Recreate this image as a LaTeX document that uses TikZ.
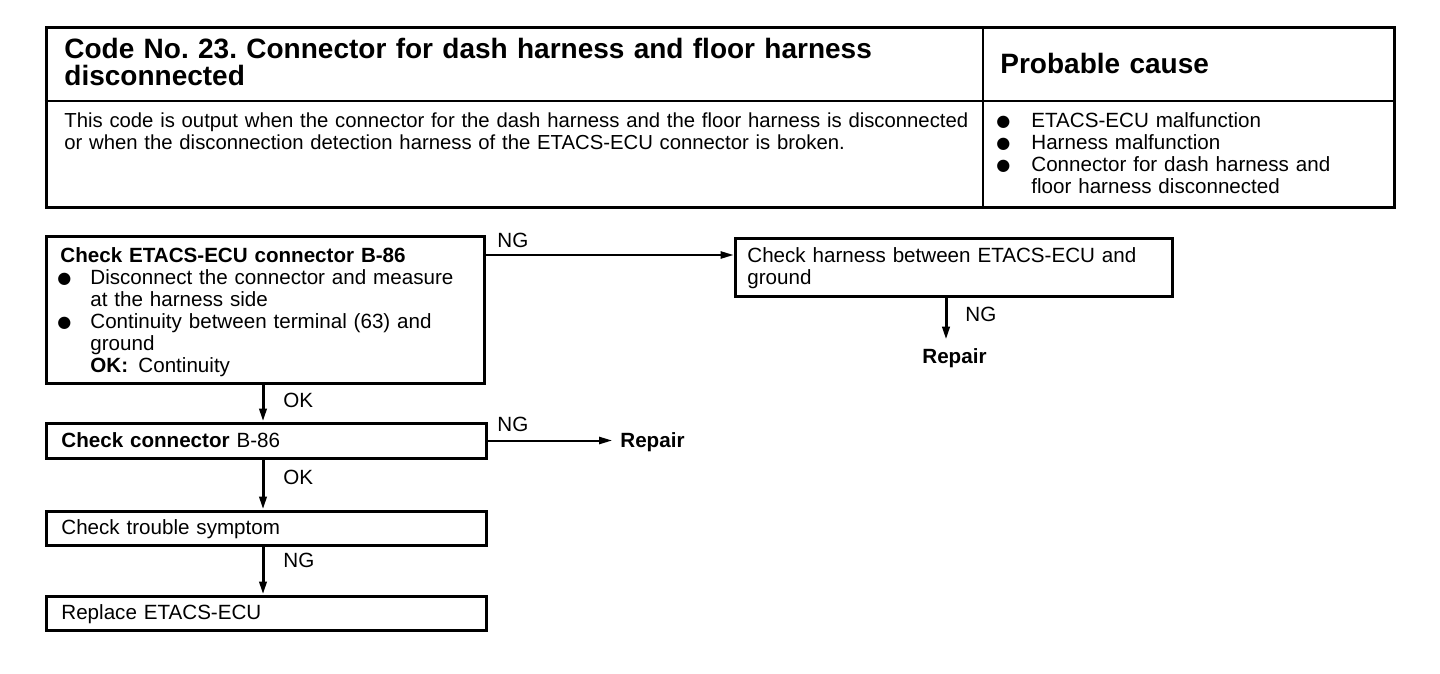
\documentclass[tikz,border=0pt]{standalone}
\usepackage{fontspec}
\setmainfont{Liberation Sans}
\newfontfamily\dejavu{DejaVu Sans}
\usetikzlibrary{arrows.meta,fit}
\frenchspacing
\newcommand{\bigdot}{\raisebox{0.2pt}{\dejavu\scalebox{0.78}{●}}}
\newcommand{\bulA}{\makebox[15pt][l]{\hspace{-1.5pt}\bigdot}}
\newcommand{\bulB}{\makebox[17.5pt][l]{\bigdot}}
\newcommand{\indA}{\hspace*{15pt}}
\newcommand{\indB}{\hspace*{17.5pt}}
\begin{document}
\begin{tikzpicture}[x=0.5pt,y=-0.5pt,
  box/.style={draw, line width=1.5pt, inner sep=0pt, rectangle},
  txt/.style={inner sep=0pt, anchor=base west, align=left, text width=#1,
    font=\fontsize{10.3}{11}\selectfont},
  txt/.default=210pt,
  ttl/.style={inner sep=0pt, anchor=base west, align=left, text width=470pt,
    font=\fontsize{14}{13.5}\selectfont\bfseries},
  lbl/.style={inner sep=0pt, anchor=base west, font=\fontsize{10.3}{11}\selectfont},
  rep/.style={inner sep=0pt, anchor=base west, font=\fontsize{10.3}{11}\selectfont\bfseries},
  vflow/.style={line width=1.5pt, -{Triangle[length=6.5pt,width=3.6pt]}},
  hflow/.style={line width=1pt, -{Triangle[length=6.5pt,width=3.6pt]}}
]
\useasboundingbox (0,0) rectangle (1440,674);

% ---- table ----
\node[box, fit={(46,28)(1394,207)}] (tbl) {};
\coordinate (hdr) at (0,101);
\coordinate (col) at (983,0);
\draw[line width=1pt] (tbl.west |- hdr) -- (tbl.east |- hdr);
\draw[line width=1pt] (col |- tbl.north) -- (col |- tbl.south);

\node[ttl] (title) at (64,59) {Code No. 23. Connector for dash harness and floor harness\\disconnected};
\node[ttl, text width=180pt] (pc) at (1000,74) {Probable cause};
\node[txt=480pt, font=\fontsize{10.15}{11}\selectfont] (desc) at (64,127) {This code is output when the connector for the dash harness and the floor harness is disconnected\\or when the disconnection detection harness of the ETACS-ECU connector is broken.};
\node[txt=190pt] (causes) at (996,127) {\bulB ETACS-ECU malfunction\\
\bulB Harness malfunction\\
\bulB Connector for dash harness and\\
\indB floor harness disconnected};

% ---- flow boxes ----
\node[box, fit={(46,236)(484,383)}] (b1) {};
\node[box, fit={(735,238)(1172,296)}] (b2) {};
\node[box, fit={(46,423)(486,458)}] (b3) {};
\node[box, fit={(46,511)(486,545)}] (b4) {};
\node[box, fit={(46,596)(486,630)}] (b5) {};

\node[txt] (t1) at (60,262) {\textbf{Check ETACS-ECU connector B-86}\\
\bulA Disconnect the connector and measure\\
\indA at the harness side\\
\bulA Continuity between terminal (63) and\\
\indA ground\\
\indA\textbf{OK:}\enspace Continuity};
\node[txt] (t2) at (747,262) {\makebox[206.5pt][s]{Check harness between ETACS-ECU and}\\ground};
\node[txt] (t3) at (61,447) {\textbf{Check connector} B-86};
\node[txt] (t4) at (61,534) {Check trouble symptom};
\node[txt] (t5) at (61,619) {Replace ETACS-ECU};

\node[rep] (r1) at (922,363) {Repair};
\node[rep] (r2) at (620,447) {Repair};

% ---- connectors ----
\coordinate (ax) at (263,0);
\coordinate (bx) at (946,0);
\coordinate (ny) at (0,255);

\draw[hflow] (b1.east |- ny) -- (b2.west |- ny);
\node[lbl] (ng1) at (497,247) {NG};

\draw[vflow] (bx |- b2.south) -- ([yshift=4pt]bx |- r1.north);
\node[lbl] (ng2) at (965,321) {NG};

\draw[vflow] (ax |- b1.south) -- (ax |- b3.north);
\node[lbl] (ok1) at (283,407) {OK};

\draw[hflow] (b3.east) -- ([xshift=-4pt]b3.east -| r2.west);
\node[lbl] (ng3) at (497,431) {NG};

\draw[vflow] (ax |- b3.south) -- (ax |- b4.north);
\node[lbl] (ok2) at (283,484) {OK};

\draw[vflow] (ax |- b4.south) -- (ax |- b5.north);
\node[lbl] (ng4) at (283,567) {NG};
\end{tikzpicture}
\end{document}
